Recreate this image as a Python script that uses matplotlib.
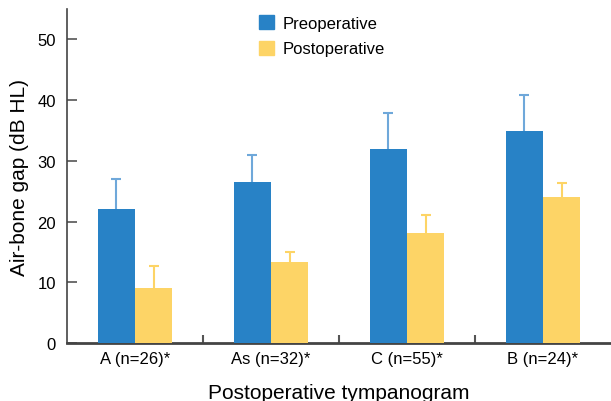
import matplotlib
matplotlib.use("Agg")
import matplotlib.pyplot as plt
import numpy as np
from matplotlib.patches import Patch

categories = ["A (n=26)*", "As (n=32)*", "C (n=55)*", "B (n=24)*"]
pre_mean = [22.0, 26.5, 31.9, 34.9]
pre_sd = [5.0, 4.5, 5.9, 6.0]
post_mean = [9.0, 13.3, 18.1, 24.0]
post_sd = [3.7, 1.7, 2.9, 2.3]
yticks = [0, 10, 20, 30, 40, 50]

blue = "#2882C6"
blue_err = "#6FA8DA"
yellow = "#FDD466"
yellow_err = "#FDD466"

plt.rcParams['font.family'] = ['Liberation Sans', 'DejaVu Sans']

fig = plt.figure(figsize=(6.11, 4.02), dpi=100)
ax = fig.add_axes([67/611, 58/402, 1 - 67/611, (344-10)/402])

x = np.arange(len(categories))
w = 0.275
ax.bar(x - w/2, pre_mean, w, color=blue, zorder=3, linewidth=0)
ax.bar(x + w/2, post_mean, w, color=yellow, zorder=3, linewidth=0)
for xs, m, e, c in [(x - w/2, pre_mean, pre_sd, blue_err), (x + w/2, post_mean, post_sd, yellow_err)]:
    eb = ax.errorbar(xs, m, yerr=[np.zeros(4), e], fmt='none',
                     ecolor=c, elinewidth=1.5, capsize=3.8, capthick=1.5, zorder=2)
    for cl in eb[1]:
        if np.allclose(cl.get_ydata(), m):
            cl.set_visible(False)

ax.set_xlim(-0.5, 3.5)
ax.set_ylim(0, 55)
ax.set_yticks(yticks)
ax.set_xticks(x)
ax.set_xticklabels(categories, fontsize=12)
ax.set_xticks([0.5, 1.5, 2.5], minor=True)
ax.tick_params(axis='x', which='major', length=0, pad=6)
ax.tick_params(axis='x', which='minor', direction='in', length=6, width=1.5, color='#555555')
ax.tick_params(axis='y', direction='in', length=7, width=1.2, color='#555555', labelsize=12, pad=8)

for s in ['top', 'right']:
    ax.spines[s].set_visible(False)
ax.spines['left'].set_color('#444444')
ax.spines['bottom'].set_color('#444444')
ax.spines['left'].set_linewidth(1.2)
ax.spines['bottom'].set_linewidth(2)

ax.set_ylabel("Air-bone gap (dB HL)", fontsize=15, labelpad=6)
ax.set_xlabel("Postoperative tympanogram", fontsize=15, labelpad=12)

handles = [Patch(color=blue, label="Preoperative"), Patch(color=yellow, label="Postoperative")]
fig.legend(handles=handles, loc='upper left', bbox_to_anchor=(244/611, 1 - 1/402),
           frameon=False, fontsize=12, handlelength=0.9, handleheight=0.9,
           handletextpad=0.5, labelspacing=0.6)

fig.savefig("out.png", dpi=100)
